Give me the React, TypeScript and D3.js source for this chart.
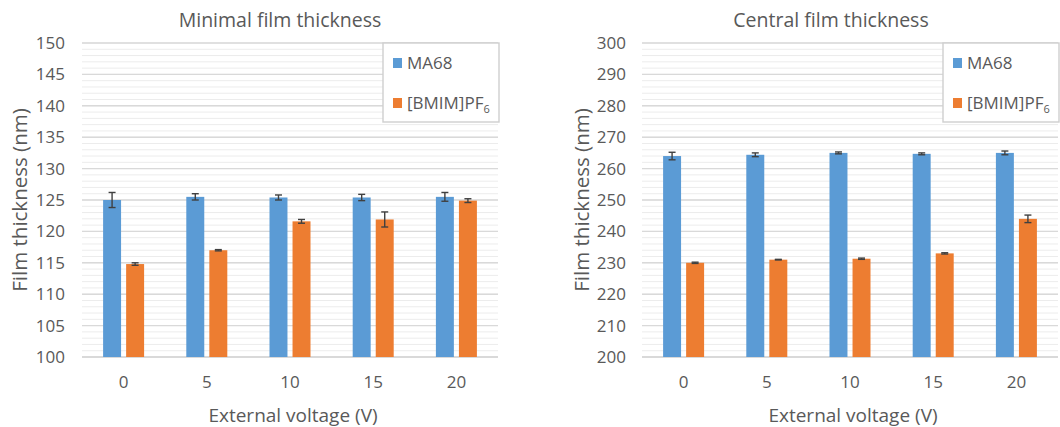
import * as d3 from 'd3'
import { useEffect, useRef } from 'react'

const voltages = ['0', '5', '10', '15', '20']
const seriesNames = ['MA68', '[BMIM]PF']

// minimal film thickness (nm)
const minMA68 = [125.0, 125.5, 125.4, 125.4, 125.5]
const minMA68Err = [1.2, 0.5, 0.4, 0.5, 0.7]
const minBmim = [114.8, 117.0, 121.6, 121.9, 124.9]
const minBmimErr = [0.2, 0.1, 0.3, 1.2, 0.3]
const minTicks = [100, 105, 110, 115, 120, 125, 130, 135, 140, 145, 150]

// central film thickness (nm)
const cenMA68 = [264.0, 264.4, 265.0, 264.7, 265.0]
const cenMA68Err = [1.2, 0.6, 0.3, 0.3, 0.6]
const cenBmim = [230.0, 231.0, 231.3, 233.0, 244.0]
const cenBmimErr = [0.2, 0.1, 0.2, 0.2, 1.2]
const cenTicks = [200, 210, 220, 230, 240, 250, 260, 270, 280, 290, 300]

const colors = ['#5B9BD5', '#ED7D31']
const font = "'Open Sans', 'Noto Sans', sans-serif"
const textColor = '#595959'

const Panel = ({ title, titleX, left, right, ticks, values, errors, legendX, yLabelX, tickX }) => {
  const gRef = useRef()

  useEffect(() => {
    const g = d3.select(gRef.current)
    g.selectAll('*').remove()

    const top = 43
    const bottom = 357
    const x = d3.scaleBand().domain(voltages).range([left, right])
    const sub = d3.scaleBand().domain(seriesNames).range([-20.5, 20.5]).paddingInner(0.22)
    const y = d3
      .scaleLinear()
      .domain([ticks[0], ticks[ticks.length - 1]])
      .range([bottom, top])

    // minor gridlines
    g.selectAll('.minor')
      .data(y.ticks(50))
      .enter()
      .append('line')
      .attr('x1', left)
      .attr('x2', right)
      .attr('y1', (d) => y(d))
      .attr('y2', (d) => y(d))
      .attr('stroke', '#ececec')
      .attr('stroke-width', 1)

    // major gridlines
    g.selectAll('.major')
      .data(ticks)
      .enter()
      .append('line')
      .attr('x1', left)
      .attr('x2', right)
      .attr('y1', (d) => y(d))
      .attr('y2', (d) => y(d))
      .attr('stroke', (d, i) => (i === 0 ? '#cfcfcf' : '#d9d9d9'))
      .attr('stroke-width', 1.4)

    // y tick labels
    g.selectAll('.ytick')
      .data(ticks)
      .enter()
      .append('text')
      .attr('x', tickX)
      .attr('y', (d) => y(d))
      .attr('dy', '0.35em')
      .attr('text-anchor', 'end')
      .style('font-family', font)
      .style('font-size', '17px')
      .style('fill', textColor)
      .text((d) => d)

    // x tick labels
    g.selectAll('.xtick')
      .data(voltages)
      .enter()
      .append('text')
      .attr('x', (d) => x(d) + x.bandwidth() / 2)
      .attr('y', 388)
      .attr('text-anchor', 'middle')
      .style('font-family', font)
      .style('font-size', '17px')
      .style('fill', textColor)
      .text((d) => d)

    // bars + error bars
    seriesNames.forEach((name, s) => {
      const rows = voltages.map((v, i) => ({ v, val: values[s][i], err: errors[s][i] }))
      const cx = (d) => x(d.v) + x.bandwidth() / 2 + sub(name)
      g.selectAll('.bar' + s)
        .data(rows)
        .enter()
        .append('rect')
        .attr('x', (d) => cx(d))
        .attr('y', (d) => y(d.val))
        .attr('width', sub.bandwidth())
        .attr('height', (d) => bottom - y(d.val))
        .attr('fill', colors[s])

      const mid = (d) => cx(d) + sub.bandwidth() / 2
      rows.forEach((d) => {
        const e = g.append('g').attr('stroke', '#404040').attr('stroke-width', 1.4)
        e.append('line')
          .attr('x1', mid(d))
          .attr('x2', mid(d))
          .attr('y1', y(d.val + d.err))
          .attr('y2', y(d.val - d.err))
        ;[d.val + d.err, d.val - d.err].forEach((c) => {
          e.append('line')
            .attr('x1', mid(d) - 3.5)
            .attr('x2', mid(d) + 3.5)
            .attr('y1', y(c))
            .attr('y2', y(c))
        })
      })
    })

    // title
    g.append('text')
      .attr('x', titleX)
      .attr('y', 27)
      .attr('text-anchor', 'middle')
      .style('font-family', font)
      .style('font-size', '19.5px')
      .style('fill', textColor)
      .text(title)

    // axis titles
    g.append('text')
      .attr('x', (left + right) / 2 + 3)
      .attr('y', 422)
      .attr('text-anchor', 'middle')
      .style('font-family', font)
      .style('font-size', '19px')
      .style('fill', textColor)
      .text('External voltage (V)')

    g.append('text')
      .attr('transform', `translate(${yLabelX},${(top + bottom) / 2}) rotate(-90)`)
      .attr('text-anchor', 'middle')
      .attr('dy', '0.35em')
      .style('font-family', font)
      .style('font-size', '20.5px')
      .style('fill', textColor)
      .text('Film thickness (nm)')

    // legend
    const lg = g.append('g').attr('transform', `translate(${legendX},43)`)
    lg.append('rect')
      .attr('width', 116)
      .attr('height', 79)
      .attr('fill', 'white')
      .attr('stroke', '#cfcfcf')
      .attr('stroke-width', 1.4)
    seriesNames.forEach((name, s) => {
      const ly = 20 + s * 40
      lg.append('rect')
        .attr('x', 10)
        .attr('y', ly - 5)
        .attr('width', 9)
        .attr('height', 10)
        .attr('fill', colors[s])
      const t = lg
        .append('text')
        .attr('x', 24)
        .attr('y', ly)
        .attr('dy', '0.35em')
        .style('font-family', font)
        .style('font-size', '17px')
        .style('fill', textColor)
        .text(name)
      if (s === 1) {
        t.append('tspan').attr('dy', '4').style('font-size', '11px').text('6')
      }
    })
  }, [])

  return <g ref={gRef}></g>
}

const App = () => {
  return (
    <svg
      width="1060"
      height="427"
      style={{ position: 'absolute', left: 0, top: 0, background: 'white' }}
    >
      <Panel
        title="Minimal film thickness"
        titleX={280}
        left={82}
        right={498}
        ticks={minTicks}
        values={[minMA68, minBmim]}
        errors={[minMA68Err, minBmimErr]}
        legendX={383}
        yLabelX={20}
        tickX={65}
      />
      <Panel
        title="Central film thickness"
        titleX={831}
        left={642}
        right={1058}
        ticks={cenTicks}
        values={[cenMA68, cenBmim]}
        errors={[cenMA68Err, cenBmimErr]}
        legendX={943}
        yLabelX={582}
        tickX={626}
      />
    </svg>
  )
}

export default App
